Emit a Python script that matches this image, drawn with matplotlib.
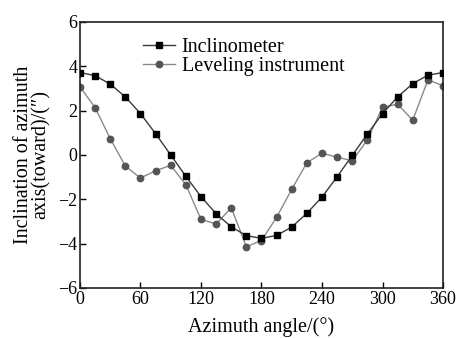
import matplotlib
matplotlib.use("Agg")
import matplotlib.pyplot as plt

plt.rcParams['font.family'] = ['Liberation Serif', 'DejaVu Serif']
plt.rcParams['axes.unicode_minus'] = True

# azimuth angles, sampled every 15 degrees
azimuth = [0, 15, 30, 45, 60, 75, 90, 105, 120, 135, 150, 165, 180,
           195, 210, 225, 240, 255, 270, 285, 300, 315, 330, 345, 360]

inclinometer = [3.72, 3.58, 3.2, 2.62, 1.87, 0.96, 0.0, -0.96, -1.88, -2.65,
                -3.24, -3.64, -3.76, -3.63, -3.25, -2.63, -1.9, -0.98, -0.02,
                0.95, 1.87, 2.62, 3.22, 3.6, 3.72]

leveling = [3.08, 2.14, 0.74, -0.5, -1.04, -0.71, -0.47, -1.34, -2.9, -3.12,
            -2.38, -4.14, -3.86, -2.81, -1.55, -0.35, 0.08, -0.1, -0.26,
            0.68, 2.15, 2.29, 1.57, 3.39, 3.12]

x_ticks = [0, 60, 120, 180, 240, 300, 360]
y_ticks = [-6, -4, -2, 0, 2, 4, 6]

fig = plt.figure(figsize=(4.62, 3.38), dpi=100)
ax = fig.add_axes([0.173, 0.148, 0.786, 0.787])

ax.plot(azimuth, inclinometer, color='#3a3a3a', linewidth=1.0,
        marker='s', markersize=4.6, markerfacecolor='black',
        markeredgecolor='black', label='Inclinometer', zorder=3)
ax.plot(azimuth, leveling, color='#8a8a8a', linewidth=1.0,
        marker='o', markersize=4.6, markerfacecolor='#555555',
        markeredgecolor='#555555', label='Leveling instrument', zorder=2)

ax.set_xlim(0, 360)
ax.set_ylim(-6, 6)
ax.set_xticks(x_ticks)
ax.set_yticks(y_ticks)
ax.tick_params(direction='in', length=4, width=1, labelsize=13, pad=2)

for s in ax.spines.values():
    s.set_linewidth(1.2)
    s.set_color('#222222')

ax.set_xlabel('Azimuth angle/(°)', fontsize=14.5, labelpad=7)
ax.set_ylabel('Inclination of azimuth\naxis(toward)/(″)', fontsize=14.5,
              labelpad=5, linespacing=0.95)

ax.legend(loc='upper left', bbox_to_anchor=(0.13, 1.0), frameon=False,
          fontsize=14.5, handlelength=1.6, handletextpad=0.3,
          labelspacing=0.0, borderaxespad=0.4)

fig.savefig('out.png', dpi=100)
